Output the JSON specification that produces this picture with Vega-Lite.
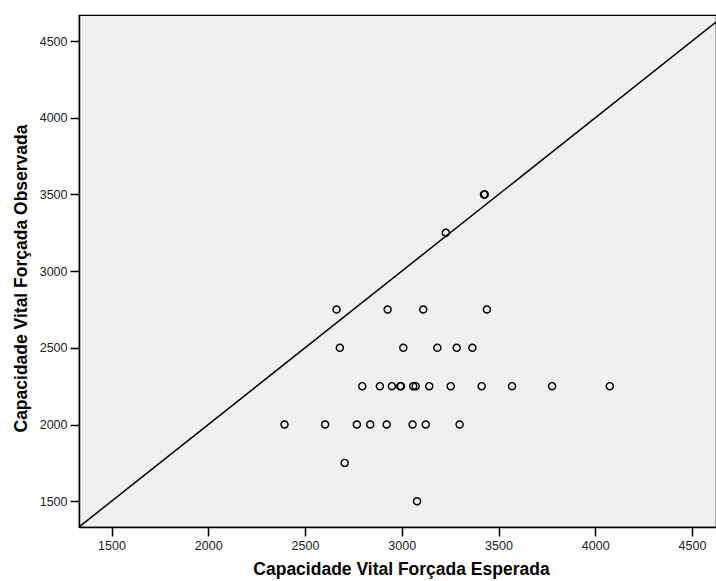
{
  "$schema": "https://vega.github.io/schema/vega-lite/v6.json",
  "width": 637,
  "height": 512,
  "autosize": {"type": "none"},
  "padding": {"left": 79, "top": 15, "right": 0, "bottom": 54},
  "background": "white",
  "config": {
    "view": {"fill": "#f0f0f0", "stroke": "black", "strokeWidth": 1.2},
    "font": "Liberation Sans",
    "axis": {
      "grid": false,
      "domainColor": "black",
      "domainWidth": 1.5,
      "tickColor": "black",
      "tickWidth": 1.5,
      "tickSize": 9,
      "labelFont": "Liberation Sans",
      "labelFontSize": 12.5,
      "labelColor": "#222",
      "labelPadding": 3,
      "format": "d",
      "titleFont": "Liberation Sans",
      "titleFontSize": 17.5,
      "titleFontWeight": "bold",
      "titleColor": "black"
    }
  },
  "datasets": {
    "pts": [
      {"esp": 2394, "obs": 2000}, {"esp": 2604, "obs": 2000}, {"esp": 2768, "obs": 2000},
      {"esp": 2837, "obs": 2000}, {"esp": 2922, "obs": 2000}, {"esp": 3056, "obs": 2000},
      {"esp": 3124, "obs": 2000}, {"esp": 3299, "obs": 2000},
      {"esp": 2705, "obs": 1750},
      {"esp": 3079, "obs": 1500},
      {"esp": 2796, "obs": 2250}, {"esp": 2887, "obs": 2250}, {"esp": 2949, "obs": 2250},
      {"esp": 2992, "obs": 2250}, {"esp": 2996, "obs": 2250}, {"esp": 3059, "obs": 2250},
      {"esp": 3072, "obs": 2250}, {"esp": 3142, "obs": 2250}, {"esp": 3253, "obs": 2250},
      {"esp": 3413, "obs": 2250}, {"esp": 3570, "obs": 2250}, {"esp": 3777, "obs": 2250},
      {"esp": 4075, "obs": 2250},
      {"esp": 2680, "obs": 2500}, {"esp": 3008, "obs": 2500}, {"esp": 3184, "obs": 2500},
      {"esp": 3284, "obs": 2500}, {"esp": 3365, "obs": 2500},
      {"esp": 2663, "obs": 2750}, {"esp": 2927, "obs": 2750}, {"esp": 3111, "obs": 2750},
      {"esp": 3440, "obs": 2750},
      {"esp": 3228, "obs": 3250},
      {"esp": 3425, "obs": 3500}, {"esp": 3429, "obs": 3500}
    ],
    "diag": [
      {"esp": 1332, "obs": 1332},
      {"esp": 4624, "obs": 4624}
    ]
  },
  "layer": [
    {
      "data": {"name": "diag"},
      "mark": {"type": "line", "color": "black", "strokeWidth": 1.5, "clip": true},
      "encoding": {
        "x": {"field": "esp", "type": "quantitative"},
        "y": {"field": "obs", "type": "quantitative"}
      }
    },
    {
      "data": {"name": "pts"},
      "mark": {"type": "point", "shape": "circle", "filled": false, "color": "black", "size": 50, "strokeWidth": 1.4, "opacity": 1, "clip": true},
      "encoding": {
        "x": {
          "field": "esp", "type": "quantitative",
          "scale": {"domain": [1332, 4624], "nice": false, "zero": false},
          "axis": {"values": [1500, 2000, 2500, 3000, 3500, 4000, 4500], "title": "Capacidade Vital Forçada Esperada", "titlePadding": 9, "titleX": 322}
        },
        "y": {
          "field": "obs", "type": "quantitative",
          "scale": {"domain": [1332, 4670], "nice": false, "zero": false},
          "axis": {"values": [1500, 2000, 2500, 3000, 3500, 4000, 4500], "title": "Capacidade Vital Forçada Observada", "titlePadding": 9, "titleY": 263}
        }
      }
    }
  ]
}
